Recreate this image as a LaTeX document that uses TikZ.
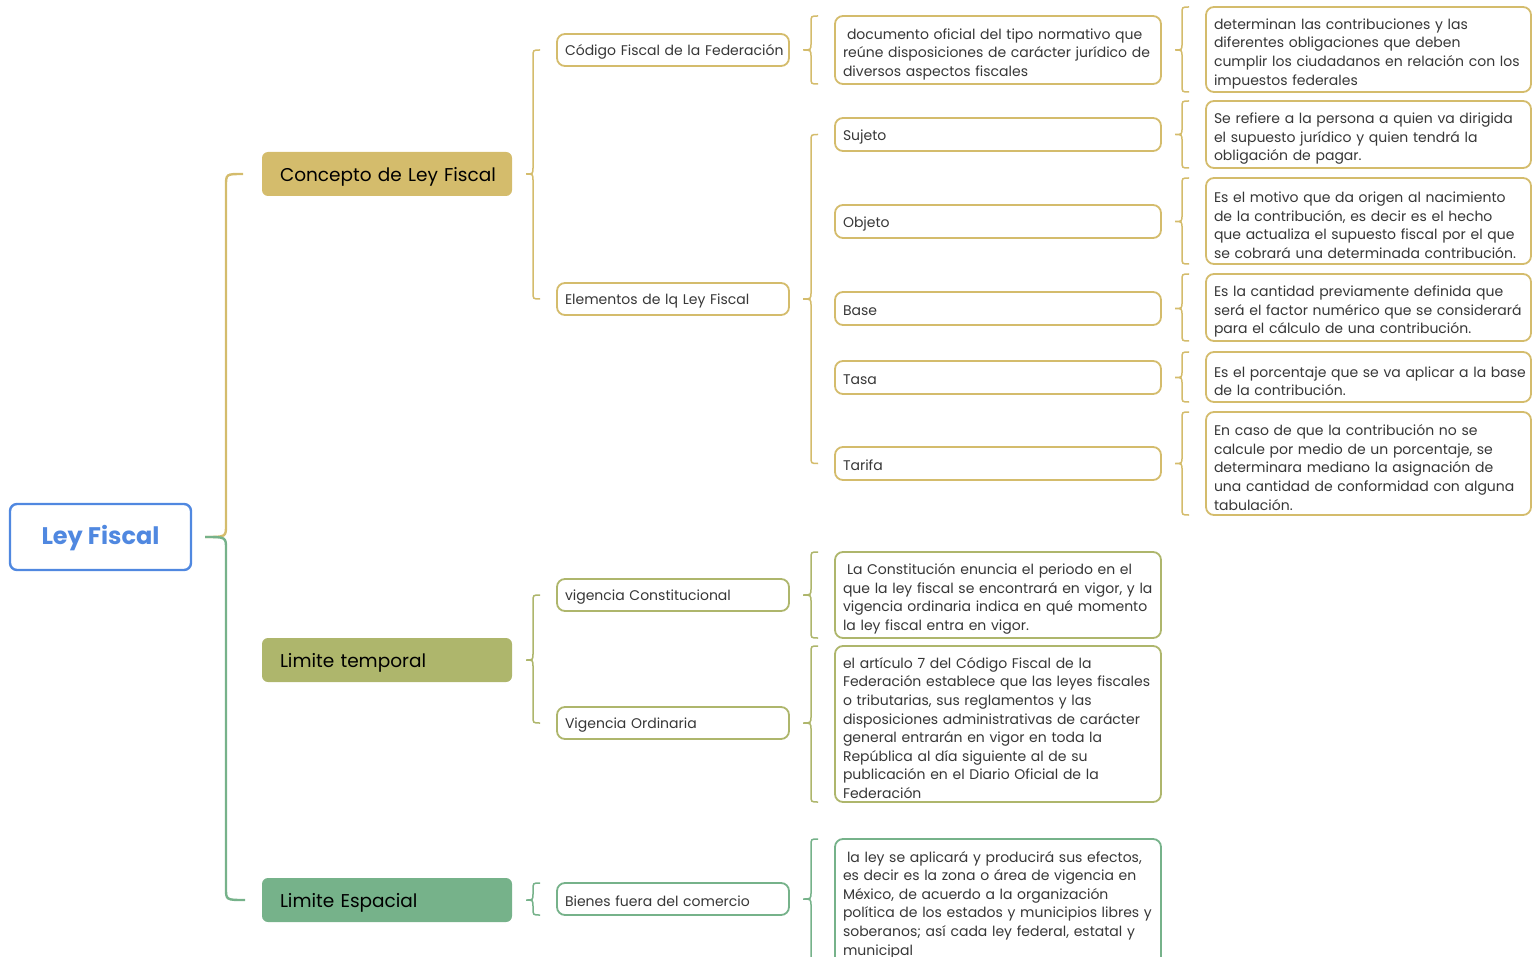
\documentclass[tikz,border=0pt]{standalone}
\usepackage{fontspec}
\setmainfont{Poppins}
\usetikzlibrary{calc}
\definecolor{cblue}{RGB}{80,136,224}
\definecolor{cgold}{RGB}{212,188,108}
\definecolor{colive}{RGB}{174,182,108}
\definecolor{cgreen}{RGB}{118,178,138}
\definecolor{ctext}{RGB}{55,55,55}
\tikzset{
  every node/.style={inner sep=0pt, outer sep=0pt},
  lbox/.style={draw, line width=1.8pt, rounded corners=8pt, fill=white, anchor=north west, inner xsep=8pt, font=\fontsize{14}{18.6}\selectfont, text=ctext,
    execute at begin node={\rightskip=-60pt plus 1fil\relax\hyphenpenalty=10000\relax\rule{0pt}{#1}}},
  lbox/.default=19pt,
  lvtwo/.style={lbox=15pt, minimum width=232pt, minimum height=32pt, text width=216pt},
  lvthree/.style={lbox=#1, minimum width=326pt, text width=310pt},
  lvthree/.default=19pt,
  lvfour/.style={lbox, minimum width=325pt, text width=309pt},
  topic/.style={rounded corners=6pt, anchor=north west, inner xsep=18pt, minimum width=250pt, minimum height=44pt, text width=214pt, font=\fontsize{18.5}{22}\selectfont, text=black,
    execute at begin node={\rightskip=-60pt plus 1fil\relax\hyphenpenalty=10000\relax\rule{0pt}{19.5pt}}},
  brcline/.style={line width=1.5pt},
  rootline/.style={line width=2.4pt},
}
\newcommand\brc[5]{\draw[brcline,#1] let \p1=(#2.east), \p2=(#3), \p3=(#4), \p4=(#5.west) in
  (\x4-17pt,\y2) .. controls (\x4-24pt,\y2) .. (\x4-24pt,\y2-7pt) -- (\x4-24pt,\y1+7pt)
  .. controls (\x4-24pt,\y1) .. (\x1+14pt,\y1) .. controls (\x4-24pt,\y1) .. (\x4-24pt,\y1-7pt)
  -- (\x4-24pt,\y3+7pt) .. controls (\x4-24pt,\y3) .. (\x4-17pt,\y3);}
\begin{document}
\begin{tikzpicture}[x=1pt,y=-1pt]
\useasboundingbox (0,0) rectangle (1536,957);
% root
\node[draw=cblue, line width=2.4pt, rounded corners=7pt, minimum width=181pt, minimum height=66pt, anchor=north west, text=cblue, font=\fontsize{24}{28}\selectfont\bfseries] (root) at (10,504) {\rule{0pt}{22pt}Ley Fiscal};
% level 1
\node[topic, fill=cgold] (cl) at (262,152) {Concepto de Ley Fiscal};
\node[topic, fill=colive] (lt) at (262,638) {Limite temporal};
\node[topic, fill=cgreen] (le) at (262,878) {Limite Espacial};
% level 2
\node[lvtwo, draw=cgold] (cff) at (557,34) {Código Fiscal de la Federación};
\node[lvtwo, draw=cgold] (elf) at (557,283) {Elementos de lq Ley Fiscal};
\node[lvtwo, draw=colive] (vc) at (557,579) {vigencia Constitucional};
\node[lvtwo, draw=colive] (vo) at (557,707) {Vigencia Ordinaria};
\node[lvtwo, draw=cgreen] (bfc) at (557,883) {Bienes fuera del comercio};
% level 3
\node[lvthree, draw=cgold, minimum height=68pt] (doc) at (835,16) {\hspace*{4pt}documento oficial del tipo normativo que\\reúne disposiciones de carácter jurídico de\\diversos aspectos fiscales};
\node[lvthree=15pt, draw=cgold, minimum height=33pt] (suj) at (835,118) {Sujeto};
\node[lvthree=15pt, draw=cgold, minimum height=33pt] (obj) at (835,205) {Objeto};
\node[lvthree=15pt, draw=cgold, minimum height=33pt] (bas) at (835,292) {Base};
\node[lvthree=15pt, draw=cgold, minimum height=33pt] (tas) at (835,361) {Tasa};
\node[lvthree=15pt, draw=cgold, minimum height=33pt] (tar) at (835,447) {Tarifa};
\node[lvthree, draw=colive, minimum height=86pt] (con) at (835,552) {\hspace*{4pt}La Constitución enuncia el periodo en el\\que la ley fiscal se encontrará en vigor, y la\\vigencia ordinaria indica en qué momento\\la ley fiscal entra en vigor.};
\node[lvthree, draw=colive, minimum height=156pt] (art) at (835,646) {el artículo 7 del Código Fiscal de la\\Federación establece que las leyes fiscales\\o tributarias, sus reglamentos y las\\disposiciones administrativas de carácter\\general entrarán en vigor en toda la\\República al día siguiente al de su\\publicación en el Diario Oficial de la\\Federación};
\node[lvthree=15pt, draw=cgreen, minimum height=128pt] (esp) at (835,839) {\hspace*{4pt}la ley se aplicará y producirá sus efectos,\\es decir es la zona o área de vigencia en\\México, de acuerdo a la organización\\política de los estados y municipios libres y\\soberanos; así cada ley federal, estatal y\\municipal};
% level 4
\node[lvfour, draw=cgold, minimum height=85pt] (d1) at (1206,7) {determinan las contribuciones y las\\diferentes obligaciones que deben\\cumplir los ciudadanos en relación con los\\impuestos federales};
\node[lvfour, draw=cgold, minimum height=67pt] (d2) at (1206,101) {Se refiere a la persona a quien va dirigida\\el supuesto jurídico y quien tendrá la\\obligación de pagar.};
\node[lvfour, draw=cgold, minimum height=86pt] (d3) at (1206,178) {Es el motivo que da origen al nacimiento\\de la contribución, es decir es el hecho\\que actualiza el supuesto fiscal por el que\\se cobrará una determinada contribución.};
\node[lvfour, draw=cgold, minimum height=67pt] (d4) at (1206,274) {Es la cantidad previamente definida que\\será el factor numérico que se considerará\\para el cálculo de una contribución.};
\node[lvfour, draw=cgold, minimum height=50pt] (d5) at (1206,352) {Es el porcentaje que se va aplicar a la base\\de la contribución.};
\node[lvfour, draw=cgold, minimum height=103pt] (d6) at (1206,412) {En caso de que la contribución no se\\calcule por medio de un porcentaje, se\\determinara mediano la asignación de\\una cantidad de conformidad con alguna\\tabulación.};
% root connectors
\draw[rootline, cgold] let \p1=(root.east), \p2=(cl.west) in
  (\x1+14pt,\y1) .. controls (\x1+35pt,\y1) .. (\x1+35pt,\y1+12pt) -- (\x1+35pt,\y2-12pt) .. controls (\x1+35pt,\y2) .. (\x2-19pt,\y2);
\draw[rootline, cgreen] let \p1=(root.east), \p2=(le.west) in
  (\x1+14pt,\y1) .. controls (\x1+35pt,\y1) .. (\x1+35pt,\y1-12pt) -- (\x1+35pt,\y2+12pt) .. controls (\x1+35pt,\y2) .. (\x2-17pt,\y2);
% braces
\brc{cgold}{cl}{cff.west}{elf.west}{cff}
\brc{cgold}{cff}{doc.north}{doc.south}{doc}
\brc{cgold}{elf}{suj.west}{tar.west}{suj}
\brc{cgold}{doc}{d1.north}{d1.south}{d1}
\brc{cgold}{suj}{d2.north}{d2.south}{d2}
\brc{cgold}{obj}{d3.north}{d3.south}{d3}
\brc{cgold}{bas}{d4.north}{d4.south}{d4}
\brc{cgold}{tas}{d5.north}{d5.south}{d5}
\brc{cgold}{tar}{d6.north}{d6.south}{d6}
\brc{colive}{lt}{vc.west}{vo.west}{vc}
\brc{colive}{vc}{con.north}{con.south}{con}
\brc{colive}{vo}{art.north}{art.south}{art}
\brc{cgreen}{le}{bfc.north}{bfc.south}{bfc}
\brc{cgreen}{bfc}{esp.north}{esp.south}{esp}
\end{tikzpicture}
\end{document}
